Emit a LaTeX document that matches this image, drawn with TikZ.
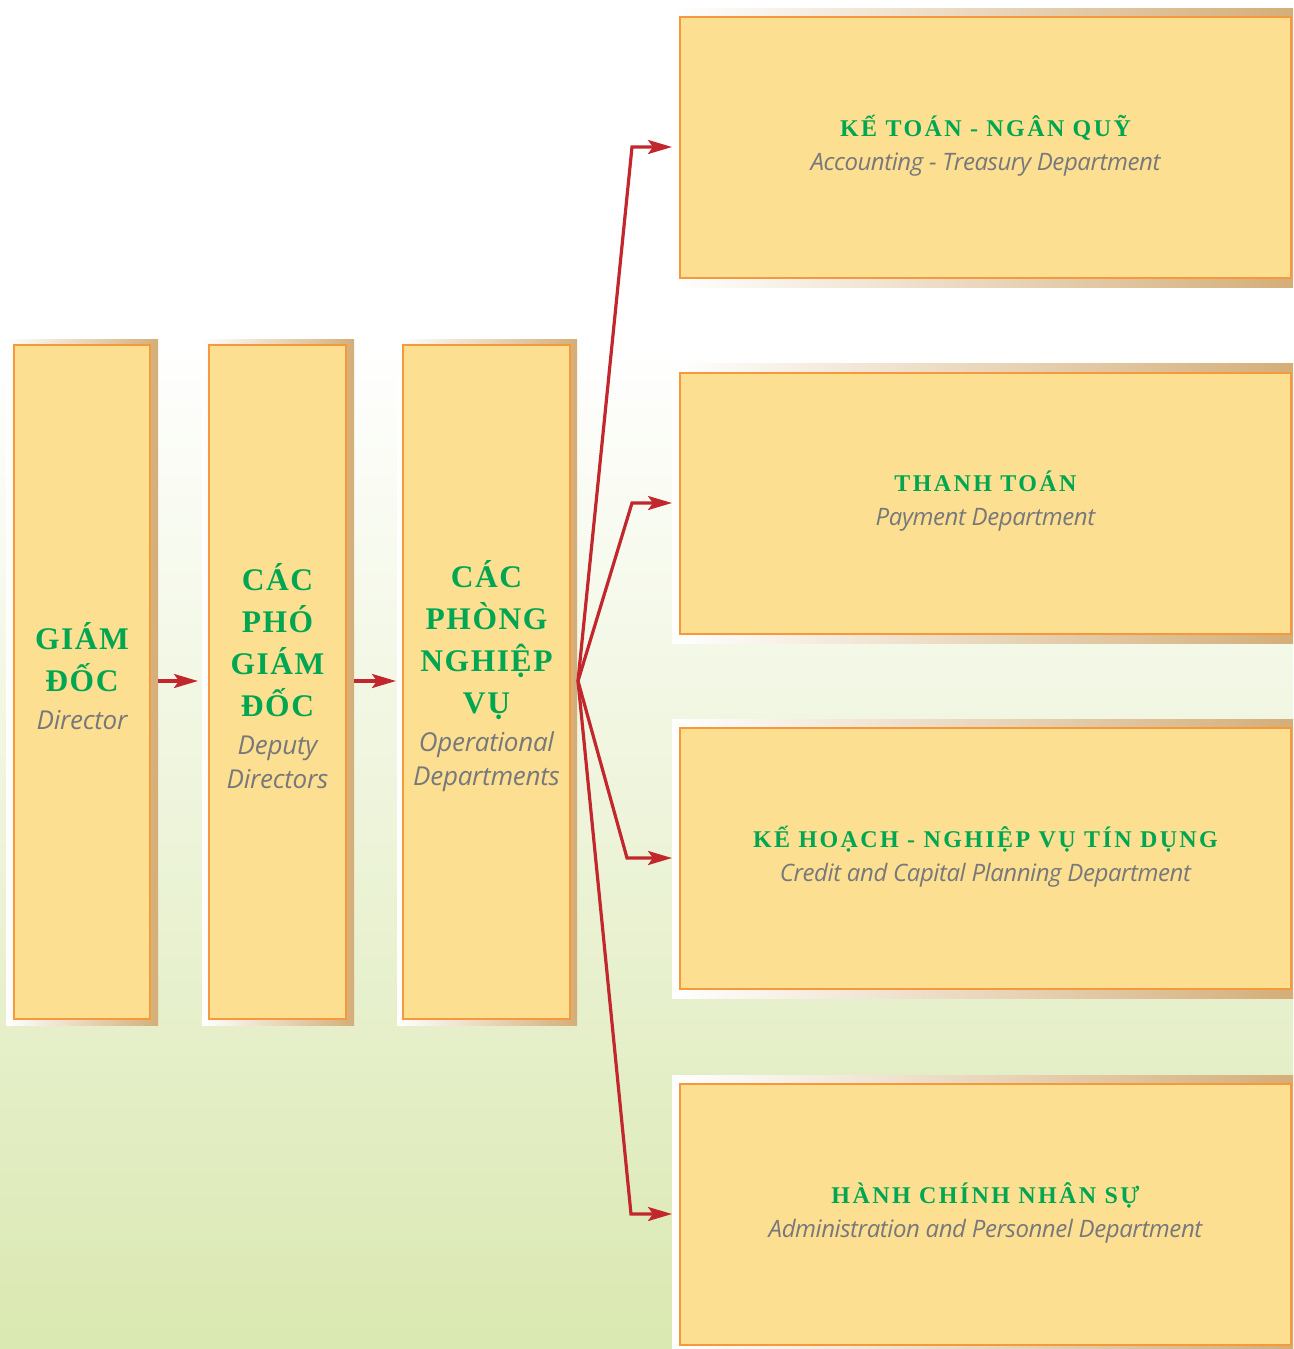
\documentclass[tikz,border=0pt]{standalone}
\usepackage{fontspec}
\usetikzlibrary{arrows.meta}
\newfontfamily\headfont{Liberation Serif}[LetterSpace=5]
\newfontfamily\wideheadfont{Liberation Serif}[LetterSpace=10]
\newfontfamily\subfont{Open Sans}[LetterSpace=-1]
\newfontfamily\tightsubfont{Open Sans}[LetterSpace=-1.8]
\definecolor{boxfill}{HTML}{FDDF91}
\definecolor{boxline}{HTML}{F59A3C}
\definecolor{shadowtan}{HTML}{D4AE78}
\definecolor{bggreen}{HTML}{DAE8B1}
\definecolor{headgreen}{HTML}{00A651}
\definecolor{subgray}{HTML}{77787B}
\definecolor{linkred}{HTML}{C1272D}
% green capitals and grey italic subtitles
\newcommand\hd[1]{{\color{headgreen}\headfont\bfseries #1}}
\newcommand\whd[1]{{\color{headgreen}\wideheadfont\bfseries #1}}
\newcommand\subtxt[1]{{\color{subgray}\subfont\itshape\fontsize{26}{30}\selectfont #1}}
\newcommand\wsubtxt[1]{{\color{subgray}\tightsubfont\itshape #1}}
\tikzset{
  frame/.style 2 args={shade, left color=white, right color=shadowtan,
    inner sep=0pt, outer sep=0pt, minimum width=#1pt, minimum height=#2pt},
  box/.style 2 args={draw=boxline, line width=1.4pt, fill=boxfill,
    inner sep=0pt, outer sep=0pt, minimum width=#1pt, minimum height=#2pt},
  talltext/.style={align=center, inner sep=0pt, font=\fontsize{31.5}{42}\selectfont},
  widetext/.style={align=center, inner sep=0pt, font=\fontsize{24}{34}\selectfont},
  link/.style={draw=linkred, line width=3.2pt, line join=miter,
    -{Stealth[length=24pt, width=14pt, inset=5pt]}},
}
\begin{document}
\begin{tikzpicture}[x=1pt, y=-1pt]
  \useasboundingbox (0,0) rectangle (1293,1349);
  % page background: white at the top, fading to pale green
  \fill[white] (0,0) rectangle (1293,341);
  \shade[top color=white, bottom color=bggreen] (0,340) rectangle (1293,1349);

  % chain of command on the left
  \node[frame={152}{686}] (f1) at (82,682) {};
  \node[frame={152}{686}] (f2) at (278,682) {};
  \node[frame={180}{686}] (f3) at (487,682) {};
  \node[box={136}{674}] (b1) at (82,682) {};
  \node[box={137}{674}] (b2) at (277.5,682) {};
  \node[box={167}{674}] (b3) at (486.5,682) {};
  \node[talltext] (t1) at (82,676)
    {\hd{GIÁM}\\\hd{ĐỐC}\\[-4pt]\subtxt{Director}};
  \node[talltext] (t2) at (277.5,676)
    {\hd{CÁC}\\\hd{PHÓ}\\\hd{GIÁM}\\\hd{ĐỐC}\\[-4pt]\subtxt{Deputy}\\[-8pt]\subtxt{Directors}};
  \node[talltext] (t3) at (486.5,676)
    {\hd{CÁC}\\\hd{PHÒNG}\\\hd{NGHIỆP}\\\hd{VỤ}\\[-4pt]\subtxt{Operational}\\[-8pt]\subtxt{Departments}};

  % operational departments on the right
  \node[frame={621}{279}] (f4) at (982.5,147.5) {};
  \node[frame={621}{280}] (f5) at (982.5,503) {};
  \node[frame={621}{279}] (f6) at (982.5,858.5) {};
  \node[frame={621}{279}] (f7) at (982.5,1214.5) {};
  \node[box={611}{261}] (r1) at (985.5,147.5) {};
  \node[box={611}{261}] (r2) at (985.5,503.5) {};
  \node[box={611}{261}] (r3) at (985.5,858.5) {};
  \node[box={611}{261}] (r4) at (985.5,1214.5) {};
  \node[widetext] (s1) at (985.5,145.5)
    {\whd{KẾ TOÁN - NGÂN QUỸ}\\\wsubtxt{Accounting - Treasury Department}};
  \node[widetext] (s2) at (985.5,501.5)
    {\whd{THANH TOÁN}\\\wsubtxt{Payment Department}};
  \node[widetext] (s3) at (985.5,856.5)
    {\whd{KẾ HOẠCH - NGHIỆP VỤ TÍN DỤNG}\\\wsubtxt{Credit and Capital Planning Department}};
  \node[widetext] (s4) at (985.5,1212.5)
    {\whd{HÀNH CHÍNH NHÂN SỰ}\\\wsubtxt{Administration and Personnel Department}};

  % connectors
  \coordinate (hub) at (578,681);
  \coordinate (k1) at (632,147);
  \coordinate (k2) at (632,503);
  \coordinate (k3) at (627,858);
  \coordinate (k4) at (631,1214);
  \draw[link, shorten >=4pt] (f1.east |- hub) -- (f2.west |- hub);
  \draw[link, shorten >=1pt] (f2.east |- hub) -- (f3.west |- hub);
  \draw[link] (hub) -- (k1) -- (f4.west |- k1);
  \draw[link] (hub) -- (k2) -- (f5.west |- k2);
  \draw[link] (hub) -- (k3) -- (f6.west |- k3);
  \draw[link] (hub) -- (k4) -- (f7.west |- k4);
\end{tikzpicture}
\end{document}
